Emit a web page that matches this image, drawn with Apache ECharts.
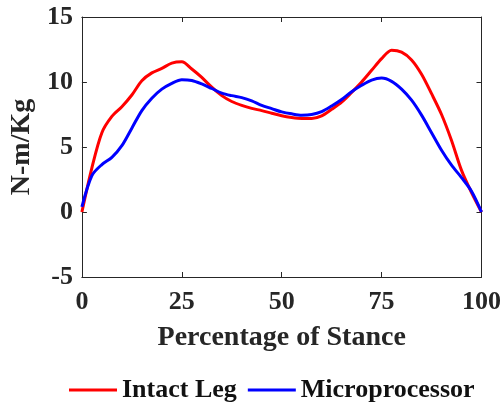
<!DOCTYPE html>
<html><head><meta charset="utf-8">
<script src="https://cdn.jsdelivr.net/npm/echarts@6/dist/echarts.min.js"></script>
<style>html,body{margin:0;padding:0;background:#fff}#c{width:504px;height:407px}</style>
</head><body><div id="c"></div>
<script>
const xValues = [0,2.5,5,7.5,10,12.5,15,17.5,20,22.5,25,27.5,30,32.5,35,37.5,40,42.5,45,47.5,50,52.5,55,57.5,60,62.5,65,67.5,70,72.5,75,77.5,80,82.5,85,87.5,90,92.5,95,97.5,100];
const intactLeg = [0,3.4,6.1,7.35,8.1,9.0,10.1,10.7,11.05,11.45,11.55,11.0,10.35,9.6,8.95,8.5,8.2,7.97,7.8,7.6,7.4,7.27,7.2,7.2,7.4,7.9,8.45,9.2,10.0,10.9,11.8,12.45,12.3,11.7,10.6,9.1,7.5,5.5,3.2,1.5,0];
const microprocessor = [0.4,2.8,3.65,4.2,5.1,6.45,7.8,8.75,9.45,9.9,10.18,10.12,9.85,9.5,9.15,8.95,8.8,8.55,8.2,7.95,7.7,7.55,7.45,7.5,7.72,8.15,8.65,9.25,9.75,10.15,10.3,10.05,9.45,8.6,7.45,6.1,4.75,3.6,2.65,1.6,0];
const xTicks = [0,25,50,75,100];
const yTicks = [-5,0,5,10,15];
const seriesNames = ['Intact Leg','Microprocessor'];

const font = 'Liberation Serif, Times New Roman, serif';
const ink = '#262626';
const pair = (ys) => xValues.map((x,i)=>[x,ys[i]]);
const chart = echarts.init(document.getElementById('c'), null, {renderer:'canvas'});
const lab = {fontFamily:font, fontWeight:'bold', fontSize:26, color:ink};
const line = {show:true, onZero:false, lineStyle:{color:ink, width:1}};
const tick = {show:true, inside:true, length:5, lineStyle:{color:ink}};
chart.setOption({
  animation:false,
  grid:{left:80, top:17, width:402, height:260},
  legend:{
    left:64, top:372, itemWidth:48, itemHeight:3, itemGap:11,
    icon:'rect',
    textStyle:{fontFamily:font, fontWeight:'bold', fontSize:26, color:'#111'},
    data:seriesNames
  },
  xAxis:[{
    type:'value', min:0, max:100, interval:25,
    name:'Percentage of Stance', nameLocation:'middle', nameGap:47,
    nameTextStyle:{fontFamily:font, fontWeight:'bold', fontSize:28, color:ink},
    axisLine:line, axisTick:tick,
    axisLabel:{...lab, margin:12, formatter:v=>xTicks.includes(v)?String(v):''},
    splitLine:{show:false}
  },{
    type:'value', min:0, max:100, interval:25, position:'top',
    axisLine:line, axisTick:tick,
    axisLabel:{show:false}, splitLine:{show:false}
  }],
  yAxis:[{
    type:'value', min:-5, max:15, interval:5,
    name:'N-m/Kg', nameLocation:'middle', nameGap:43,
    nameTextStyle:{fontFamily:font, fontWeight:'bold', fontSize:28, color:ink},
    axisLine:line, axisTick:tick,
    axisLabel:{...lab, margin:9, formatter:v=>yTicks.includes(v)?String(v):''},
    splitLine:{show:false}
  },{
    type:'value', min:-5, max:15, interval:5, position:'right',
    axisLine:line, axisTick:tick,
    axisLabel:{show:false}, splitLine:{show:false}
  }],
  series:[
    {name:seriesNames[0], type:'line', data:pair(intactLeg), smooth:0.3, showSymbol:false,
     lineStyle:{color:'#ff0000', width:3}, itemStyle:{color:'#ff0000'}},
    {name:seriesNames[1], type:'line', data:pair(microprocessor), smooth:0.3, showSymbol:false,
     lineStyle:{color:'#0000ff', width:3}, itemStyle:{color:'#0000ff'}}
  ]
});
</script></body></html>
